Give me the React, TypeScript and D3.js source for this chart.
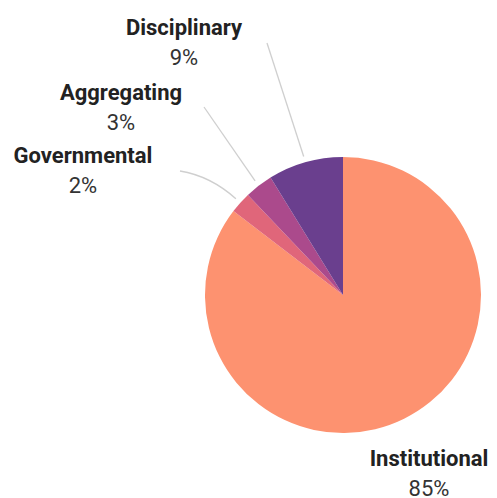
import React from 'react'
import * as d3 from 'd3'

const categories = ['Institutional', 'Governmental', 'Aggregating', 'Disciplinary']
const values = [85.4, 2.5, 3.3, 8.8]
const percentLabels = ['85%', '2%', '3%', '9%']
const colors = ['#fd9270', '#e0667a', '#ab4a8c', '#6a3f8e']

// label anchor (centre of text block, baseline of first line)
const labelPos: [number, number][] = [
  [429, 466],
  [83, 163],
  [121, 100],
  [184, 35],
]
// leader line end point (null = none)
const leaderEnd: ([number, number] | null)[] = [null, [180, 171], [204, 107], [267, 43]]

export default function App() {
  const width = 497
  const height = 498
  const cx = 343
  const cy = 295
  const r = 138

  // clockwise from 12 o'clock: Institutional first
  const pieArcs = d3
    .pie<number>()
    .sort(null)
    .value((d) => d)(values)
  const arc = d3.arc<d3.PieArcDatum<number>>().innerRadius(0).outerRadius(r)

  return (
    <svg width={width} height={height} style={{ position: 'absolute', left: 0, top: 0 }}>
      <g transform={`translate(${cx},${cy})`}>
        {pieArcs.map((a, i) => (
          <path key={i} d={arc(a) || ''} fill={colors[i]} />
        ))}
      </g>
      {pieArcs.map((a, i) => {
        const end = leaderEnd[i]
        if (!end) return null
        const mid = (a.startAngle + a.endAngle) / 2
        const sx = cx + Math.sin(mid) * (r + 6)
        const sy = cy - Math.cos(mid) * (r + 6)
        let d: string
        if (categories[i] === 'Governmental') {
          const path = d3.path()
          path.moveTo(sx, sy)
          const kx = cx + Math.sin(mid) * (r + 40)
          const ky = cy - Math.cos(mid) * (r + 40)
          path.quadraticCurveTo(kx, ky, end[0], end[1])
          d = path.toString()
        } else {
          d = `M${sx},${sy}L${end[0]},${end[1]}`
        }
        return <path key={'l' + i} d={d} fill="none" stroke="#cfcfcf" strokeWidth={1.3} />
      })}
      {categories.map((c, i) => (
        <g key={'t' + i} fontFamily="Roboto, sans-serif" fontSize={22} textAnchor="middle">
          <text x={labelPos[i][0]} y={labelPos[i][1]} fontWeight="bold" fill="#222">
            {c}
          </text>
          <text x={labelPos[i][0]} y={Math.min(labelPos[i][1] + 30, 496)} fill="#333">
            {percentLabels[i]}
          </text>
        </g>
      ))}
    </svg>
  )
}
